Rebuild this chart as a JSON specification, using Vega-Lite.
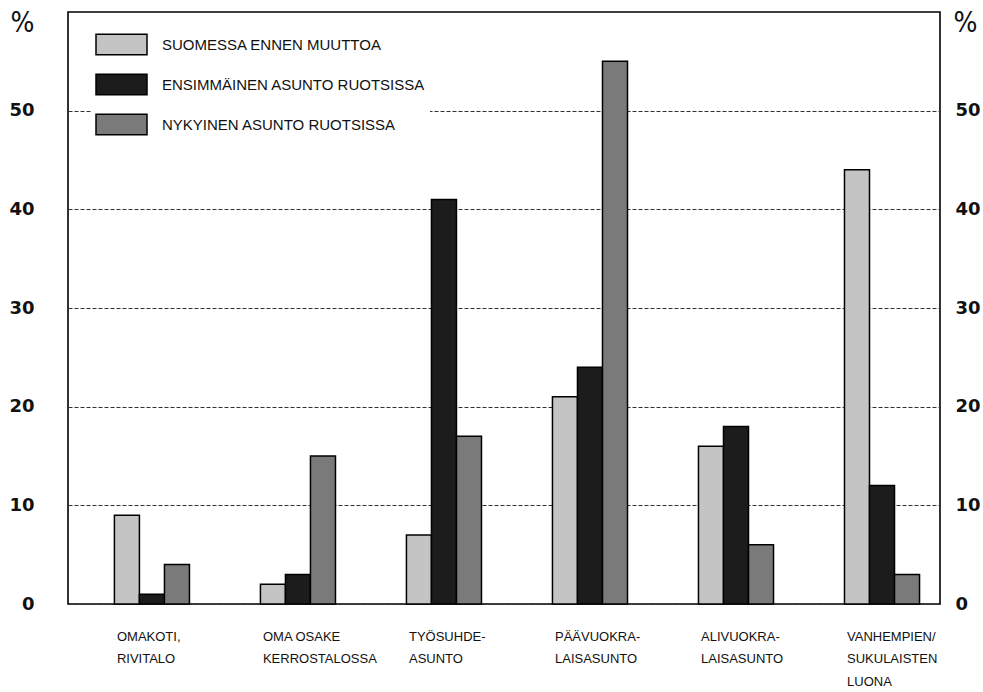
{
  "$schema": "https://vega.github.io/schema/vega-lite/v6.json",
  "width": 872,
  "height": 592,
  "autosize": {"type": "none"},
  "padding": {"left": 68, "top": 12, "right": 43, "bottom": 88},
  "background": "white",
  "config": {
    "view": {"stroke": "black", "strokeWidth": 1.6},
    "font": "Liberation Sans",
    "axisY": {"labelFontWeight": "bold", "labelFont": "DejaVu Sans", "labelFontSize": 18}
  },
  "data": {
    "values": [
      {"category": "OMAKOTI, RIVITALO", "series": "SUOMESSA ENNEN MUUTTOA", "value": 9},
      {"category": "OMAKOTI, RIVITALO", "series": "ENSIMMÄINEN ASUNTO RUOTSISSA", "value": 1},
      {"category": "OMAKOTI, RIVITALO", "series": "NYKYINEN ASUNTO RUOTSISSA", "value": 4},
      {"category": "OMA OSAKE KERROSTALOSSA", "series": "SUOMESSA ENNEN MUUTTOA", "value": 2},
      {"category": "OMA OSAKE KERROSTALOSSA", "series": "ENSIMMÄINEN ASUNTO RUOTSISSA", "value": 3},
      {"category": "OMA OSAKE KERROSTALOSSA", "series": "NYKYINEN ASUNTO RUOTSISSA", "value": 15},
      {"category": "TYÖSUHDE- ASUNTO", "series": "SUOMESSA ENNEN MUUTTOA", "value": 7},
      {"category": "TYÖSUHDE- ASUNTO", "series": "ENSIMMÄINEN ASUNTO RUOTSISSA", "value": 41},
      {"category": "TYÖSUHDE- ASUNTO", "series": "NYKYINEN ASUNTO RUOTSISSA", "value": 17},
      {"category": "PÄÄVUOKRA- LAISASUNTO", "series": "SUOMESSA ENNEN MUUTTOA", "value": 21},
      {"category": "PÄÄVUOKRA- LAISASUNTO", "series": "ENSIMMÄINEN ASUNTO RUOTSISSA", "value": 24},
      {"category": "PÄÄVUOKRA- LAISASUNTO", "series": "NYKYINEN ASUNTO RUOTSISSA", "value": 55},
      {"category": "ALIVUOKRA- LAISASUNTO", "series": "SUOMESSA ENNEN MUUTTOA", "value": 16},
      {"category": "ALIVUOKRA- LAISASUNTO", "series": "ENSIMMÄINEN ASUNTO RUOTSISSA", "value": 18},
      {"category": "ALIVUOKRA- LAISASUNTO", "series": "NYKYINEN ASUNTO RUOTSISSA", "value": 6},
      {"category": "VANHEMPIEN/ SUKULAISTEN LUONA", "series": "SUOMESSA ENNEN MUUTTOA", "value": 44},
      {"category": "VANHEMPIEN/ SUKULAISTEN LUONA", "series": "ENSIMMÄINEN ASUNTO RUOTSISSA", "value": 12},
      {"category": "VANHEMPIEN/ SUKULAISTEN LUONA", "series": "NYKYINEN ASUNTO RUOTSISSA", "value": 3}
    ]
  },
  "encoding": {
    "x": {
      "field": "category",
      "type": "nominal",
      "sort": null,
      "scale": {"paddingInner": 0.486, "paddingOuter": 0.229, "align": 0.694},
      "axis": {
        "title": null,
        "domain": false,
        "ticks": false,
        "labelAngle": 0,
        "labelAlign": "left",
        "labelBaseline": "top",
        "labelOffset": -35,
        "labelPadding": 26,
        "labelFontSize": 13,
        "labelLineHeight": 22.5,
        "labelColor": "#111",
        "labelFont": "Liberation Sans",
        "labelExpr": "datum.label == 'OMA OSAKE KERROSTALOSSA' ? ['OMA OSAKE', 'KERROSTALOSSA'] : split(datum.label, ' ')"
      }
    }
  },
  "layer": [
    {
      "mark": {"type": "bar", "stroke": "black", "strokeWidth": 1.5},
      "encoding": {
        "xOffset": {
          "field": "series",
          "type": "nominal",
          "sort": ["SUOMESSA ENNEN MUUTTOA", "ENSIMMÄINEN ASUNTO RUOTSISSA", "NYKYINEN ASUNTO RUOTSISSA"],
          "scale": {"paddingInner": 0, "paddingOuter": 0}
        },
        "y": {
          "field": "value",
          "type": "quantitative",
          "scale": {"domain": [0, 60], "nice": false},
          "axis": {
            "orient": "left",
            "values": [0, 10, 20, 30, 40, 50],
            "title": "%",
            "titleAngle": 0,
            "titleX": -46,
            "titleY": 11,
            "titleAlign": "center",
            "titleBaseline": "middle",
            "titleFontSize": 28,
            "titleFontWeight": "normal",
            "titleFont": "DejaVu Sans Condensed",
            "titleColor": "#111",
            "domain": false,
            "ticks": false,
            "labelPadding": 34,
            "labelColor": "#111",
            "grid": true,
            "gridColor": "#333",
            "gridDash": [4, 2],
            "gridWidth": 1
          }
        },
        "fill": {
          "field": "series",
          "type": "nominal",
          "sort": ["SUOMESSA ENNEN MUUTTOA", "ENSIMMÄINEN ASUNTO RUOTSISSA", "NYKYINEN ASUNTO RUOTSISSA"],
          "scale": {"range": ["#c4c4c4", "#1c1c1c", "#7a7a7a"]},
          "legend": {
            "title": null,
            "orient": "none",
            "legendX": 23,
            "legendY": 2,
            "padding": 4,
            "fillColor": "white",
            "symbolType": "M-1,-0.4H1V0.4H-1Z",
            "symbolSize": 2601,
            "symbolStrokeColor": "black",
            "symbolStrokeWidth": 1.5,
            "symbolOpacity": 1,
            "labelFontSize": 15,
            "labelFont": "Liberation Sans",
            "labelColor": "#111",
            "labelOffset": 14,
            "rowPadding": 0,
            "labelLimit": 400
          }
        }
      }
    },
    {
      "mark": {"type": "tick", "opacity": 0},
      "encoding": {
        "y": {
          "field": "value",
          "type": "quantitative",
          "axis": {
            "orient": "right",
            "values": [0, 10, 20, 30, 40, 50],
            "title": "%",
            "titleAngle": 0,
            "titleX": 25,
            "titleY": 11,
            "titleAlign": "center",
            "titleBaseline": "middle",
            "titleFontSize": 28,
            "titleFontWeight": "normal",
            "titleFont": "DejaVu Sans Condensed",
            "titleColor": "#111",
            "domain": false,
            "ticks": false,
            "grid": false,
            "labelPadding": 15,
            "labelColor": "#111"
          }
        }
      }
    }
  ],
  "resolve": {"axis": {"y": "independent"}}
}
